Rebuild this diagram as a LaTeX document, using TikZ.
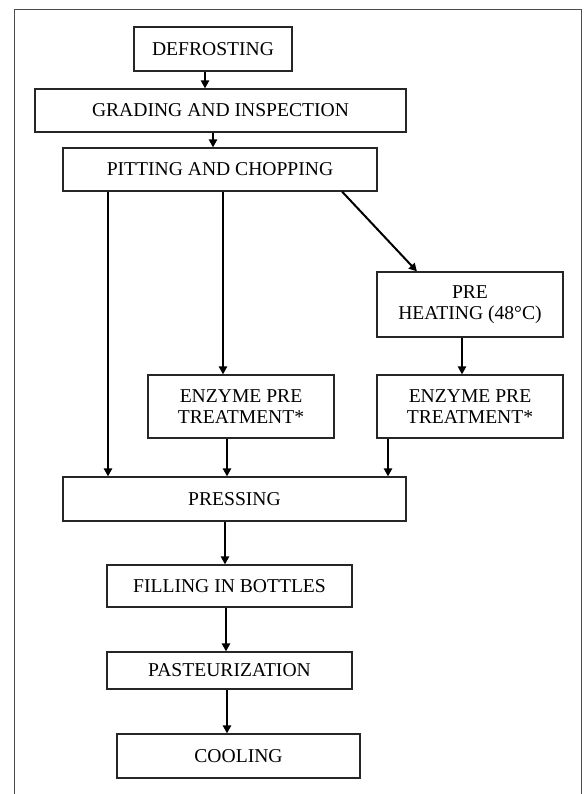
\documentclass[tikz,border=0pt]{standalone}
\usepackage{fontspec}
\setmainfont{Liberation Serif}
\usepackage{tikz}
\usetikzlibrary{arrows.meta}

\tikzset{
  stage/.style={draw=black!85, line width=0.8pt, inner sep=0pt, align=center,
    font=\fontsize{14.7}{15.75}\selectfont},
  flow/.style={line width=1.5pt, -{Triangle[length=6pt,width=6pt]}}
}

\begin{document}
\begin{tikzpicture}[x=0.75pt,y=0.75pt,yscale=-1,xscale=1]
\useasboundingbox (0,0) rectangle (584,794);

%Frame
\draw [color=black!70, line width=0.75pt] (14,794) -- (14,9) -- (581,9) -- (581,794) ;

% Text Node
\node [stage, minimum width=118.5pt, minimum height=33pt] (defrost) at (213,49) {DEFROSTING};
% Text Node
\node [stage, minimum width=278.25pt, minimum height=32.25pt] (grading) at (220.5,110.5) {GRADING AND INSPECTION};
% Text Node
\node [stage, minimum width=235.5pt, minimum height=32.25pt] (pitting) at (220,169.5) {PITTING AND CHOPPING};
% Text Node
\node [stage, minimum width=139.5pt, minimum height=48.75pt] (preheat) at (470,304.5) {PRE\\HEATING (48\textdegree C)};
% Text Node
\node [stage, minimum width=139.5pt, minimum height=47.25pt] (enzymeA) at (241,406.5) {ENZYME PRE\\TREATMENT*};
% Text Node
\node [stage, minimum width=139.5pt, minimum height=47.25pt] (enzymeB) at (470,406.5) {ENZYME PRE\\TREATMENT*};
% Text Node
\node [stage, minimum width=257.25pt, minimum height=33pt] (pressing) at (234.5,499) {PRESSING};
% Text Node
\node [stage, minimum width=183.75pt, minimum height=31.5pt] (filling) at (229.5,586) {FILLING IN BOTTLES};
% Text Node
\node [stage, minimum width=183.75pt, minimum height=27.75pt] (pasteur) at (229.5,670.5) {PASTEURIZATION};
% Text Node
\node [stage, minimum width=182.25pt, minimum height=33pt] (cooling) at (238.5,756) {COOLING};

%Straight Lines
\draw [flow] (defrost.south -| 205,0) -- (grading.north -| 205,0) ;
\draw [flow] (grading.south -| 213,0) -- (pitting.north -| 213,0) ;
\draw [flow] (pitting.south -| 108,0) -- (pressing.north -| 108,0) ;
\draw [flow] (pitting.south -| 223,0) -- (enzymeA.north -| 223,0) ;
\draw [flow] (pitting.south -| 342,0) -- (preheat.north -| 417,0) ;
\draw [flow] (preheat.south -| 462,0) -- (enzymeB.north -| 462,0) ;
\draw [flow] (enzymeA.south -| 227,0) -- (pressing.north -| 227,0) ;
\draw [flow] (enzymeB.south -| 388,0) -- (pressing.north -| 388,0) ;
\draw [flow] (pressing.south -| 225,0) -- (filling.north -| 225,0) ;
\draw [flow] (filling.south -| 226,0) -- (pasteur.north -| 226,0) ;
\draw [flow] (pasteur.south -| 227,0) -- (cooling.north -| 227,0) ;

\end{tikzpicture}
\end{document}
